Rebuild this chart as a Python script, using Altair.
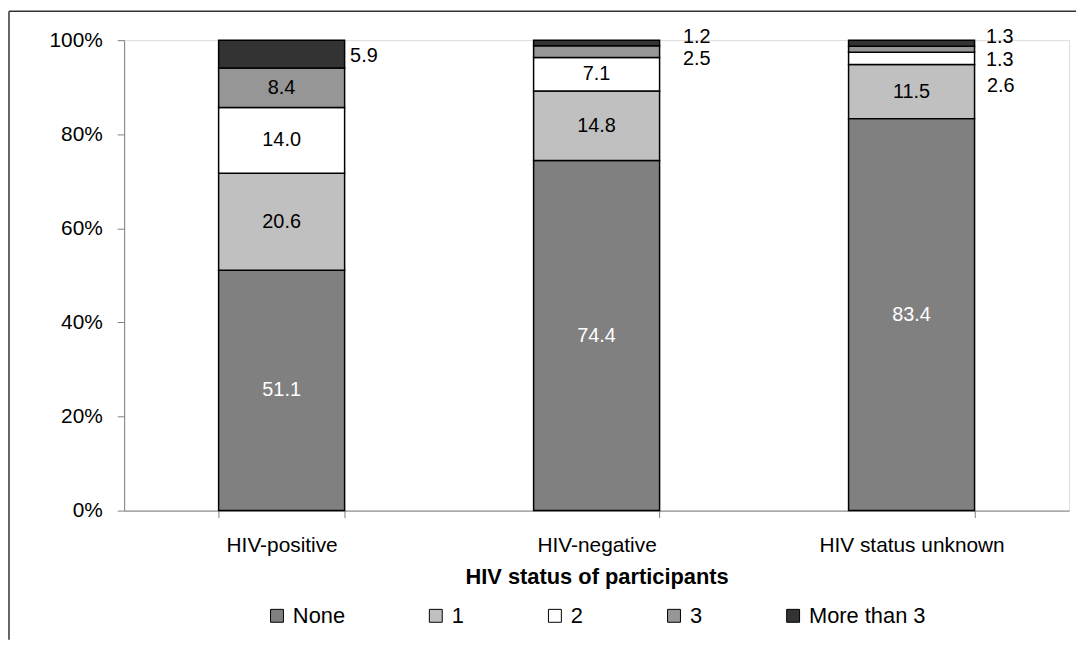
import altair as alt
import pandas as pd

statuses = ["HIV-positive", "HIV-negative", "HIV status unknown"]
categories = ["None", "1", "2", "3", "More than 3"]
none_vals = [51.1, 74.4, 83.4]
one_vals = [20.6, 14.8, 11.5]
two_vals = [14.0, 7.1, 2.6]
three_vals = [8.4, 2.5, 1.3]
more_vals = [5.9, 1.2, 1.3]
colors = ["#808080", "#C0C0C0", "#FFFFFF", "#969696", "#333333"]

series = [none_vals, one_vals, two_vals, three_vals, more_vals]
rows = []
for ci, (cat, vals) in enumerate(zip(categories, series)):
    for s, v in zip(statuses, vals):
        rows.append({"status": s, "category": cat, "order": ci,
                     "value": v, "label": f"{v:.1f}"})
df = pd.DataFrame(rows)

FONT = "Liberation Sans"
W, H = 952, 474
XTITLE = "HIV status of participants"

base = alt.Chart(df).transform_stack(
    stack="value",
    groupby=["status"],
    sort=[alt.SortField("order", order="ascending")],
    offset="normalize",
    as_=["y0", "y1"],
).transform_calculate(mid="(datum.y0 + datum.y1) / 2")

x_scale = alt.Scale(paddingInner=0.6, paddingOuter=0.3)
y_scale = alt.Scale(domain=[0, 1])

bars = base.mark_bar(stroke="black", strokeWidth=1.5).encode(
    x=alt.X("status:N", sort=statuses, scale=x_scale, title=XTITLE,
            axis=alt.Axis(labelAngle=0, labelFontSize=21, labelColor="black",
                          labelLimit=0,
                          labelPadding=17, tickBand="extent", tickSize=7,
                          tickColor="#808080", domainColor="#808080",
                          titleFontSize=22, titleFontWeight="bold",
                          titleColor="black", titlePadding=11)),
    y=alt.Y("y0:Q", scale=y_scale, title=None,
            axis=alt.Axis(values=[0, 0.2, 0.4, 0.6, 0.8, 1.0], format=".0%",
                          labelFontSize=21, labelColor="black", labelPadding=15,
                          tickSize=7, tickColor="#808080",
                          domainColor="#808080", grid=False)),
    y2="y1:Q",
    color=alt.Color("category:N", sort=categories,
                    scale=alt.Scale(domain=categories, range=colors),
                    legend=alt.Legend(title=None, orient="none", legendX=143,
                                      legendY=569, direction="horizontal",
                                      symbolType="square", symbolSize=169,
                                      symbolStrokeColor="black",
                                      symbolStrokeWidth=1, symbolOpacity=1,
                                      labelFontSize=22, labelColor="black",
                                      labelOffset=5, columnPadding=80,
                                      padding=0)),
)

inside = base.transform_filter("datum.value > 6").mark_text(
    fontSize=20, baseline="middle", align="center"
).encode(
    x=alt.X("status:N", sort=statuses, scale=x_scale, title=XTITLE),
    y=alt.Y("mid:Q", scale=y_scale, title=None),
    text="label:N",
    color=alt.condition("datum.category == 'None'", alt.value("white"),
                        alt.value("black")),
)


def outside(status, category, dx, dy):
    return base.transform_filter(
        f"datum.status == '{status}' && datum.category == '{category}'"
    ).mark_text(fontSize=20, baseline="middle", align="left", dx=dx, dy=dy,
                color="black").encode(
        x=alt.X("status:N", sort=statuses, scale=x_scale, title=XTITLE),
        y=alt.Y("mid:Q", scale=y_scale, title=None),
        text="label:N",
    )


outs = [
    outside("HIV-positive", "More than 3", 69, 2),
    outside("HIV-negative", "More than 3", 87, -6),
    outside("HIV-negative", "3", 87, 7),
    outside("HIV status unknown", "More than 3", 75, -6),
    outside("HIV status unknown", "3", 75, 11),
    outside("HIV status unknown", "2", 76, 28),
]

frame_src = alt.Chart(pd.DataFrame({"a": [0]}))
frame_top = frame_src.mark_rule(color="#333333", strokeWidth=1.5).encode(
    x=alt.value(-116), x2=alt.value(W + 8), y=alt.value(-29))
frame_left = frame_src.mark_rule(color="#333333", strokeWidth=1.5).encode(
    x=alt.value(-116), y=alt.value(-29), y2=alt.value(H + 130))

chart = alt.layer(bars, inside, *outs, frame_top, frame_left).properties(
    width=W, height=H,
    autosize=alt.AutoSizeParams(type="none"),
    padding={"left": 117, "top": 30, "right": 7, "bottom": 130},
).configure_view(stroke=None).configure(
    font=FONT
).configure_axis(labelFont=FONT, titleFont=FONT).configure_legend(
    labelFont=FONT
)

chart.save("out.html", embed_options={"renderer": "svg", "actions": False})
